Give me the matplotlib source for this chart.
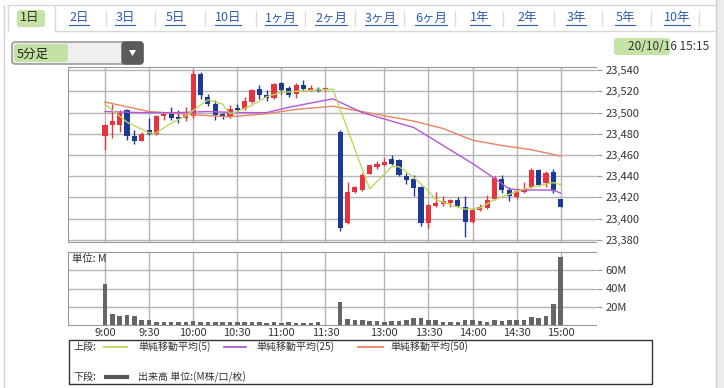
import matplotlib
matplotlib.use('Agg')
import matplotlib.pyplot as plt
from matplotlib.patches import Rectangle, FancyBboxPatch, Polygon
from matplotlib.ticker import FuncFormatter

plt.rcParams['font.family'] = ['Noto Sans CJK JP', 'DejaVu Sans']

W, H = 724, 388

# 5分足: slot 0 = 9:00, slot 32 = 12:30, slot 62 = 15:00
candle_slot = list(range(0, 31)) + list(range(32, 63))
opens = [23478, 23488, 23488, 23502, 23478, 23473, 23484, 23480, 23497, 23499,
         23496, 23495, 23497, 23536, 23515, 23508, 23499, 23496, 23504, 23503,
         23510, 23522, 23517, 23514, 23528, 23523, 23518, 23526, 23521, 23522,
         23521,
         23482, 23396, 23425, 23427, 23442, 23449, 23451, 23456, 23455, 23440,
         23437, 23430, 23396, 23412, 23414, 23415, 23418, 23411, 23397, 23408,
         23410, 23419, 23437, 23427, 23420, 23425, 23430, 23446, 23434, 23444,
         23419]
highs = [23489, 23508, 23502, 23503, 23484, 23482, 23495, 23498, 23501, 23505,
         23502, 23505, 23540, 23538, 23518, 23512, 23500, 23507, 23508, 23515,
         23522, 23526, 23521, 23528, 23529, 23525, 23528, 23531, 23526, 23524,
         23524,
         23484, 23435, 23431, 23443, 23451, 23454, 23457, 23460, 23456, 23443,
         23441, 23431, 23414, 23425, 23421, 23419, 23420, 23421, 23410, 23414,
         23422, 23440, 23441, 23430, 23428, 23435, 23448, 23447, 23445, 23447,
         23419]
lows = [23465, 23476, 23482, 23474, 23470, 23473, 23479, 23479, 23493, 23493,
        23490, 23492, 23495, 23513, 23506, 23493, 23494, 23495, 23501, 23502,
        23509, 23513, 23511, 23513, 23518, 23515, 23514, 23520, 23520, 23519,
        23520,
        23388, 23395, 23424, 23426, 23442, 23447, 23450, 23451, 23440, 23433,
        23421, 23393, 23391, 23411, 23412, 23411, 23411, 23383, 23396, 23407,
        23409, 23418, 23424, 23417, 23419, 23424, 23429, 23431, 23430, 23424,
        23411]
closes = [23488, 23492, 23500, 23478, 23473, 23480, 23480, 23497, 23499, 23495,
          23494, 23498, 23536, 23517, 23508, 23498, 23496, 23503, 23502, 23511,
          23521, 23517, 23514, 23527, 23521, 23517, 23526, 23522, 23523, 23520,
          23523,
          23391, 23425, 23430, 23441, 23451, 23452, 23453, 23452, 23441, 23436,
          23429, 23396, 23413, 23415, 23417, 23418, 23412, 23397, 23408, 23411,
          23418, 23438, 23427, 23421, 23426, 23428, 23446, 23432, 23443, 23426,
          23411]

vol_slot = list(range(0, 30)) + list(range(32, 63))
volume = [45, 12, 9.5, 11, 9.5, 5.5, 6, 3.5, 3.5, 3.5,
          3.5, 3.5, 4.5, 3.5, 3.5, 3.5, 3, 3, 3.5, 3,
          3, 3.5, 2.5, 3, 2.5, 3, 2.5, 2.5, 2.5, 3.5,
          25.5, 6.5, 5, 5, 4.5, 4.5, 3.6, 4, 4.6, 6,
          7.3, 7.3, 5.8, 5.8, 3.6, 3.6, 3.6, 6, 5.5, 4.4,
          3.6, 6, 4.4, 6, 6, 5.5, 9, 8, 10, 23,
          74]

ma5_slot = [0, 3, 6, 7, 9, 11, 12, 14, 16, 17, 18, 20, 22, 24, 26, 28, 31,
            36, 39, 40, 42, 44, 45, 47, 49, 51, 53, 55, 57, 59, 61, 62]
ma5 = [23508, 23491, 23481, 23481, 23490, 23497, 23502, 23512, 23508, 23499,
       23501, 23507, 23515, 23519, 23520, 23521, 23522,
       23428, 23449, 23449, 23439, 23426, 23418, 23413, 23409, 23410, 23418,
       23423, 23428, 23431, 23434, 23432]
ma25_slot = [0, 5, 10, 14, 18, 22, 25, 28, 31, 35, 38, 42, 46, 50, 53, 55, 57, 61, 62]
ma25 = [23501, 23500, 23500, 23501, 23500, 23500, 23505, 23509, 23513, 23500,
        23494, 23486, 23469, 23452, 23438, 23428, 23427, 23427, 23424]
ma50_slot = [0, 6, 12, 17, 22, 26, 31, 35, 38, 42, 46, 50, 54, 58, 62]
ma50 = [23510, 23501, 23498, 23496, 23499, 23503, 23506, 23501, 23497, 23492,
        23485, 23474, 23469, 23465, 23459]

tick_slot = [0, 6, 12, 18, 24, 30, 38, 44, 50, 56, 62]
tick_label = ['9:00', '9:30', '10:00', '10:30', '11:00', '11:30',
              '13:00', '13:30', '14:00', '14:30', '15:00']
price_ticks = [23380, 23400, 23420, 23440, 23460, 23480, 23500, 23520, 23540]
vol_ticks = [20, 40, 60]

tabs = ['1日', '2日', '3日', '5日', '10日', '1ヶ月', '2ヶ月', '3ヶ月', '6ヶ月',
        '1年', '2年', '3年', '5年', '10年']
tab_x = [30, 79, 125, 175, 228, 281, 331, 381, 431, 480, 527, 576, 625, 677]
sep_x = [106, 155, 205, 256, 305, 355, 404, 455, 503, 554, 602, 651, 699]

C_UP = '#e6343f'
C_DN = '#1d3a94'
C_MA5 = '#c0d65c'
C_MA25 = '#b157d8'
C_MA50 = '#e88460'
C_GRID = '#b4b4b4'
C_HL = '#bfe09a'

fig = plt.figure(figsize=(W / 100, H / 100), dpi=100)

# ---- 背景・枠 (ピクセル座標)
bg = fig.add_axes([0, 0, 1, 1])
bg.set_xlim(0, W)
bg.set_ylim(H, 0)
bg.axis('off')

bg.plot([4, 4], [5, H], color='#d4d4d4', lw=1)
bg.add_patch(Rectangle((716, 0), 8, H, color='#ececec', lw=0))
bg.plot([716, 716], [0, H], color='#cccccc', lw=1)
bg.plot([8, 716], [5, 5], color='#d8d8d8', lw=1)
bg.plot([8, 8], [5, 31], color='#d8d8d8', lw=1)
bg.plot([55, 55], [5, 31], color='#d8d8d8', lw=1)
bg.plot([55, 716], [31, 31], color='#d8d8d8', lw=1)

# タブ
bg.add_patch(FancyBboxPatch((17, 10), 28, 17, boxstyle='round,pad=0,rounding_size=3',
                            fc=C_HL, ec='none', alpha=0.9))
tab_texts = []
for i, (t, x) in enumerate(zip(tabs, tab_x)):
    col = '#333333' if i == 0 else '#2c5cae'
    tt = bg.text(x, 18, t, ha='center', va='center', fontsize=9, color=col)
    if i > 0:
        tab_texts.append(tt)
for x in sep_x:
    bg.plot([x, x], [11, 26], color='#dddddd', lw=1)

# 5分足 ドロップダウン
bg.add_patch(FancyBboxPatch((12, 42), 131, 22, boxstyle='round,pad=0,rounding_size=3',
                            fc='#efefef', ec='#8a8a8a', lw=1))
bg.add_patch(FancyBboxPatch((14, 44), 54, 18, boxstyle='round,pad=0,rounding_size=3',
                            fc=C_HL, ec='none', alpha=0.9))
bg.add_patch(FancyBboxPatch((122, 42), 21, 22, boxstyle='round,pad=0,rounding_size=3',
                            fc='#5b5b5b', ec='#5b5b5b', lw=1))
bg.add_patch(Polygon([(129, 50), (136, 50), (132.5, 56)], closed=True, fc='white', ec='none'))
bg.text(17, 54, '5分足', ha='left', va='center', fontsize=9, color='#222222')

# 日付
bg.add_patch(FancyBboxPatch((614, 38), 56, 17, boxstyle='round,pad=0,rounding_size=3',
                            fc=C_HL, ec='none', alpha=0.9))
bg.text(709, 46, '20/10/16 15:15', ha='right', va='center', fontsize=8.5, color='#333333')

# 凡例
bg.add_patch(Rectangle((69, 340), 583, 44, fill=False, ec='#333333', lw=1))
bg.text(74, 347, '上段:', ha='left', va='center', fontsize=7.2, color='#333333')
for x0, x1, tx, col, lab in [(104, 127, 138, C_MA5, '単純移動平均(5)'),
                             (224, 246, 256, C_MA25, '単純移動平均(25)'),
                             (358, 383, 390, C_MA50, '単純移動平均(50)')]:
    bg.plot([x0, x1], [347, 347], color=col, lw=1.3)
    bg.text(tx, 347, lab, ha='left', va='center', fontsize=7.2, color='#333333')
bg.text(74, 377, '下段:', ha='left', va='center', fontsize=7.2, color='#333333')
bg.plot([106, 127], [377, 377], color='#555555', lw=3)
bg.text(138, 377, '出来高 単位:(M株/口/枚)', ha='left', va='center', fontsize=7.2, color='#333333')

# ---- 株価チャート
ax = fig.add_axes([68 / W, 1 - 242 / H, 528 / W, 175 / H])
ax.set_xlim(-5.03, 66.8)
ax.set_ylim(23378, 23543)
ax.set_axisbelow(True)

for s, o, h, l, c in zip(candle_slot, opens, highs, lows, closes):
    col = C_UP if c >= o else C_DN
    ax.vlines(s, l, h, color=col, lw=1, zorder=2)
    ax.bar(s, max(abs(c - o), 1.2), bottom=min(o, c), width=0.7, color=col, zorder=3)

ax.plot(ma50_slot, ma50, color=C_MA50, lw=1.0, zorder=4)
ax.plot(ma25_slot, ma25, color=C_MA25, lw=1.0, zorder=4)
ax.plot(ma5_slot, ma5, color=C_MA5, lw=1.0, zorder=5)

ax.set_xticks(tick_slot)
ax.set_yticks(price_ticks)
ax.grid(True, color=C_GRID, lw=1)
ax.yaxis.tick_right()
ax.yaxis.set_major_formatter(FuncFormatter(lambda v, p: f'{int(v):,}'))
ax.tick_params(axis='x', length=0, labelbottom=False)
ax.tick_params(axis='y', length=4, color='#999999', labelsize=8, labelcolor='#333333', pad=3)
for sp in ['top', 'left', 'bottom']:
    ax.spines[sp].set_color('#999999')
ax.spines['right'].set_visible(False)

# ---- 出来高
axv = fig.add_axes([68 / W, 1 - 325 / H, 528 / W, 73 / H])
axv.set_xlim(-5.03, 66.8)
axv.set_ylim(0, 80)
axv.set_axisbelow(True)
axv.bar(vol_slot, volume, width=0.62, color='#666666', zorder=3)
axv.set_xticks(tick_slot)
axv.set_xticklabels(tick_label)
axv.set_yticks(vol_ticks)
axv.yaxis.tick_right()
axv.yaxis.set_major_formatter(FuncFormatter(lambda v, p: f'{int(v)}M'))
axv.grid(True, color=C_GRID, lw=1)
axv.tick_params(axis='x', length=0, labelsize=8, labelcolor='#333333', pad=2)
axv.tick_params(axis='y', length=4, color='#999999', labelsize=8, labelcolor='#333333', pad=3)
for sp in ['top', 'left', 'bottom']:
    axv.spines[sp].set_color('#999999')
axv.spines['right'].set_visible(False)
axv.text(0.008, 0.9, '単位: M', transform=axv.transAxes, ha='left', va='center',
         fontsize=7.5, color='#333333')

# タブのリンク下線
fig.canvas.draw()
for tt in tab_texts:
    bb = tt.get_window_extent()
    yb = H - bb.y0
    bg.plot([bb.x0, bb.x1], [yb, yb], color='#2c5cae', lw=0.8)

fig.savefig('out.png', dpi=100)
